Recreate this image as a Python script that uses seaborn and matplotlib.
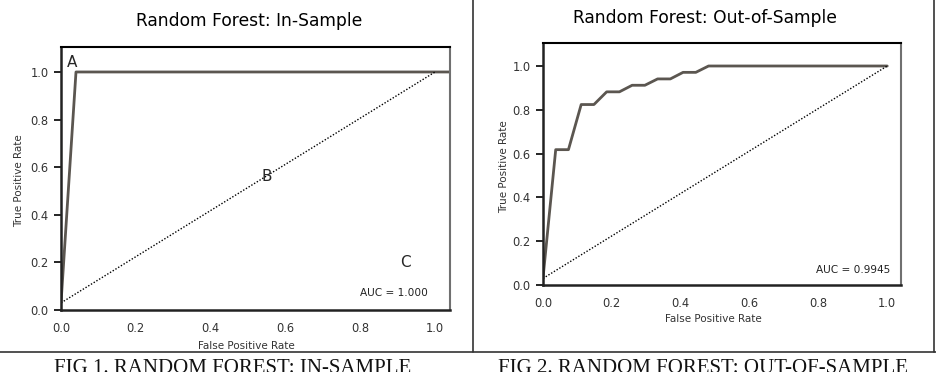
import matplotlib
matplotlib.use("Agg")
import matplotlib.pyplot as plt
import seaborn as sns
from matplotlib.lines import Line2D

# ROC curves
fpr_in = [0.0, 0.04, 1.04]
tpr_in = [0.03, 1.0, 1.0]

fpr_out = [0.0, 0.037, 0.074, 0.111, 0.148, 0.185, 0.222, 0.259, 0.296,
           0.333, 0.370, 0.407, 0.444, 0.481, 1.0]
tpr_out = [0.03, 0.618, 0.618, 0.824, 0.824, 0.882, 0.882, 0.912, 0.912,
           0.941, 0.941, 0.971, 0.971, 1.0, 1.0]

chance_x = [0.0, 1.0]
chance_y = [0.03, 1.0]

ticks = [0.0, 0.2, 0.4, 0.6, 0.8, 1.0]
tick_labels = ["0.0", "0.2", "0.4", "0.6", "0.8", "1.0"]

titles = ["Random Forest: In-Sample", "Random Forest: Out-of-Sample"]
captions = ["FIG 1. RANDOM FOREST: IN-SAMPLE", "FIG 2. RANDOM FOREST: OUT-OF-SAMPLE"]
auc_text = ["AUC = 1.000", "AUC = 0.9945"]

sns.set_theme(style="white")
plt.rcParams["font.family"] = ["DejaVu Sans"]

fig = plt.figure(figsize=(9.36, 3.72), dpi=100)
ax1 = fig.add_axes([0.0652, 0.1667, 0.4156, 0.707])
ax2 = fig.add_axes([0.5801, 0.2339, 0.3825, 0.6505])

curve_col = "#5b5650"

sns.lineplot(x=fpr_in, y=tpr_in, ax=ax1, sort=False, estimator=None,
             color=curve_col, linewidth=2)
sns.lineplot(x=fpr_out, y=tpr_out, ax=ax2, sort=False, estimator=None,
             color=curve_col, linewidth=2)

for ax in (ax1, ax2):
    sns.lineplot(x=chance_x, y=chance_y, ax=ax, sort=False, estimator=None,
                 color="black", linewidth=1.0, linestyle=(0, (1, 1.3)))
    ax.set_xlim(0, 1.04)
    ax.set_ylim(0, 1.105)
    ax.set_xticks(ticks)
    ax.set_xticklabels(tick_labels)
    ax.set_yticks(ticks)
    ax.set_yticklabels(tick_labels)
    ax.tick_params(axis="y", length=5, width=1.2, pad=4, labelsize=8.3,
                   color="black", labelcolor="#333333", left=True)
    ax.tick_params(axis="x", length=0, pad=9, labelsize=8.3, labelcolor="#333333")
    ax.set_xlabel("False Positive Rate", fontsize=7.5, color="#333333")
    ax.set_ylabel("True Positive Rate", fontsize=7.5, color="#333333")
    ax.xaxis.set_label_coords(0.476, -0.118)
    ax.yaxis.set_label_coords(-0.095, 0.49)
    ax.spines["top"].set_color("black")
    ax.spines["top"].set_linewidth(1.5)
    ax.spines["right"].set_color("#707070")
    ax.spines["right"].set_linewidth(1.5)
    ax.spines["left"].set_color("#222222")
    ax.spines["left"].set_linewidth(1.8)
    ax.spines["bottom"].set_color("#222222")
    ax.spines["bottom"].set_linewidth(1.8)
    for s in ax.spines.values():
        s.set_visible(True)
    ax.grid(False)

ax1.text(0.03, 1.04, "A", fontsize=11, ha="center", va="center")
ax1.text(0.55, 0.56, "B", fontsize=11, ha="center", va="center")
ax1.text(0.92, 0.20, "C", fontsize=11, ha="center", va="center")
ax1.text(0.89, 0.07, auc_text[0], fontsize=7.6, ha="center", va="center", color="#222222")
ax2.text(0.90, 0.07, auc_text[1], fontsize=7.6, ha="center", va="center", color="#222222")

fig.text(0.266, 0.9435, titles[0], fontsize=12.3, ha="center", va="center", color="black")
fig.text(0.753, 0.952, titles[1], fontsize=12.3, ha="center", va="center", color="black")

# figure captions, cut off at the bottom edge as in the source
fig.text(0.248, -0.004, captions[0], fontsize=15, ha="center", va="baseline",
         family="Liberation Serif", color="#111111")
fig.text(0.751, -0.004, captions[1], fontsize=15, ha="center", va="baseline",
         family="Liberation Serif", color="#111111")

# frame lines around the two panels
fig.add_artist(Line2D([0, 1], [0.0538, 0.0538], color="#333333", linewidth=1.2))
fig.add_artist(Line2D([0.5053, 0.5053], [0.0538, 1], color="#333333", linewidth=1.2))
fig.add_artist(Line2D([0.998, 0.998], [0.0538, 1], color="#333333", linewidth=1.2))

fig.savefig("out.png", dpi=100)
